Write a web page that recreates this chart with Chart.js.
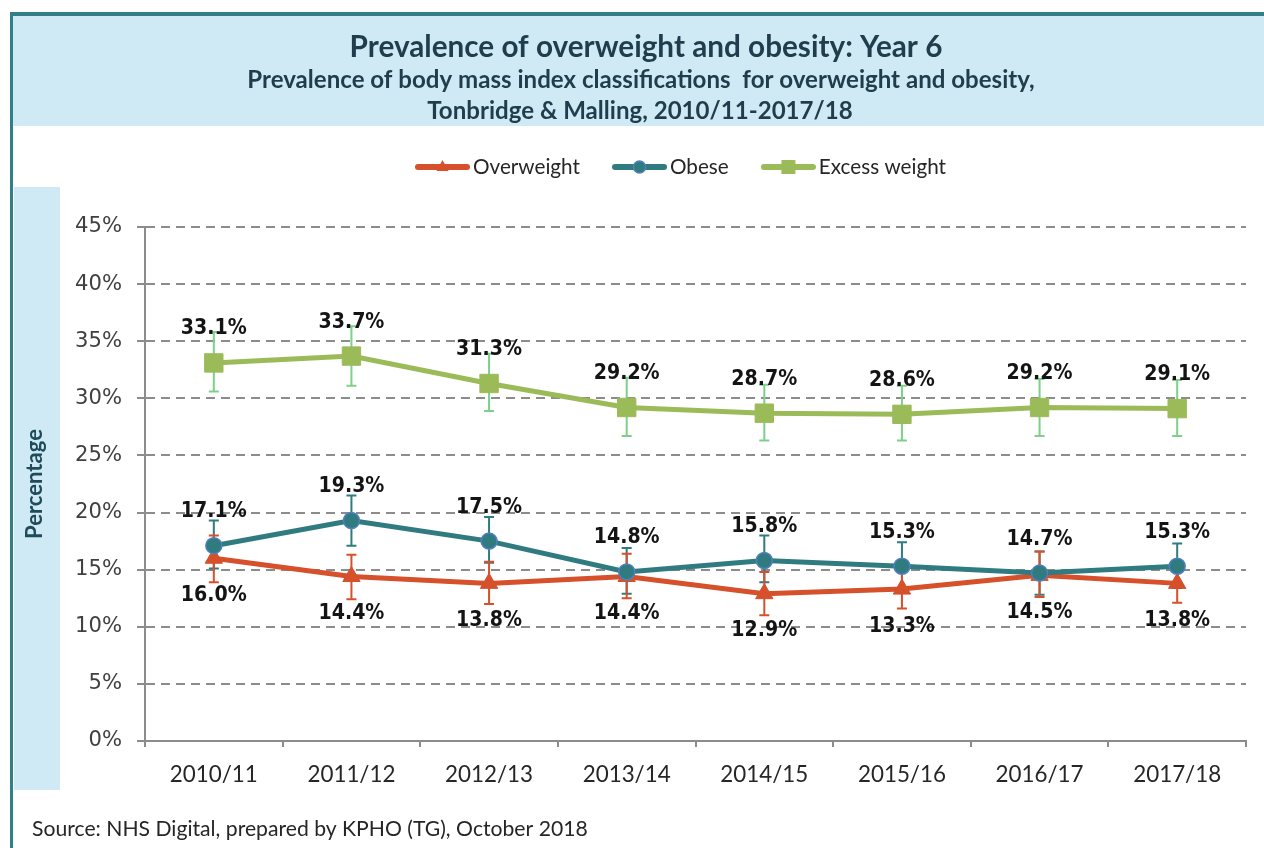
<!DOCTYPE html>
<html>
<head>
<meta charset="utf-8">
<script src="https://cdn.jsdelivr.net/npm/chart.js@4.4.1/dist/chart.umd.min.js"></script>
<style>
html,body{margin:0;padding:0;background:#fff;}
#wrap{width:1264px;height:848px;position:relative;overflow:hidden;}
canvas{display:block;}
</style>
</head>
<body>
<div id="wrap"><canvas id="c" width="1264" height="848"></canvas></div>
<script>
// ---------- DATA ----------
const years = ['2010/11','2011/12','2012/13','2013/14','2014/15','2015/16','2016/17','2017/18'];
const overweight = [16.0,14.4,13.8,14.4,12.9,13.3,14.5,13.8];
const obese = [17.1,19.3,17.5,14.8,15.8,15.3,14.7,15.3];
const excess = [33.1,33.7,31.3,29.2,28.7,28.6,29.2,29.1];
const overweightLow = [13.9,12.4,12.0,12.5,11.0,11.6,12.6,12.1];
const overweightHigh = [18.0,16.3,15.7,16.4,14.8,15.2,16.6,15.6];
const obeseLow = [15.1,17.1,15.6,12.9,13.9,13.4,12.8,13.4];
const obeseHigh = [19.3,21.5,19.6,16.9,18.0,17.4,16.6,17.3];
const excessLow = [30.6,31.1,28.9,26.7,26.3,26.3,26.7,26.7];
const excessHigh = [35.8,36.3,33.9,31.8,31.2,31.1,31.7,31.6];
const yTickLabels = ['0%','5%','10%','15%','20%','25%','30%','35%','40%','45%'];
const seriesNames = ['Overweight','Obese','Excess weight'];
const titleText = 'Prevalence of overweight and obesity: Year 6';
const subtitleText = ['Prevalence of body mass index classifications  for overweight and obesity,', 'Tonbridge & Malling, 2010/11-2017/18'];
const yTitleText = 'Percentage';
const sourceText = 'Source: NHS Digital, prepared by KPHO (TG), October 2018';

// ---------- STYLE ----------
const RED = '#d5502b', TEAL = '#2f7b7f', GREEN = '#9bbb59';
const RED_ERR = '#d5502b', TEAL_ERR = '#2f7b7f', GREEN_ERR = '#7dd08a';
const GRID = '#8c8c8c';
const BAND = '#cfeaf5', BORDER = '#317f87', TITLE_COL = '#1f3d4c';
const CAL = "'Lato', 'Open Sans', sans-serif";
const VER = "'DejaVu Sans', sans-serif";
const VERC = "'DejaVu Sans Condensed', 'DejaVu Sans', sans-serif";

const mctx = document.createElement('canvas').getContext('2d');
function fitSize(text, weight, family, target){
  mctx.font = weight + ' 100px ' + family;
  return 100 * target / mctx.measureText(text).width;
}
function textW(text, weight, size, family){
  mctx.font = weight + ' ' + size + 'px ' + family;
  return mctx.measureText(text).width;
}

const T1 = fitSize(titleText, 'bold', CAL, 593);
const T2 = fitSize(subtitleText[0], 'bold', CAL, 788);
const SRC = fitSize(sourceText, 'normal', CAL, 556);
const LEG = fitSize('Overweight', 'normal', CAL, 107);
const XT = fitSize('2010/11', 'normal', CAL, 88);
const YT = fitSize('45%', 'normal', VER, 47);
const YTITLE = fitSize(yTitleText, 'bold', CAL, 110);
const DL = fitSize('33.1%', 'bold', VERC, 66);

// legend geometry
const LINE_W = 55;
const legBoxW = 61 - LEG;
const legPad = (612 - 415) - (legBoxW + LEG/2 + textW('Overweight','normal',LEG,CAL));

function legendImage(kind, color){
  const c = document.createElement('canvas');
  c.width = LINE_W; c.height = 20;
  const g = c.getContext('2d');
  g.strokeStyle = color; g.lineWidth = 6; g.lineCap = 'round';
  g.beginPath(); g.moveTo(3,10); g.lineTo(LINE_W-3,10); g.stroke();
  g.fillStyle = color;
  const cx = LINE_W/2, cy = 10;
  if (kind === 'triangle'){
    g.beginPath(); g.moveTo(cx, cy-7); g.lineTo(cx+6, cy+4); g.lineTo(cx-6, cy+4); g.closePath(); g.fill();
  } else if (kind === 'circle'){
    g.beginPath(); g.arc(cx, cy, 6, 0, Math.PI*2); g.fill();
    g.strokeStyle = '#4f81bd'; g.lineWidth = 1.5; g.stroke();
  } else {
    g.fillRect(cx-7, cy-7, 14, 14);
  }
  return c;
}
const legendImgs = [legendImage('triangle', RED), legendImage('circle', TEAL), legendImage('rect', GREEN)];

// ---------- PLUGINS ----------
const background = {
  id: 'background',
  beforeDraw(chart){
    const ctx = chart.ctx;
    ctx.save();
    ctx.fillStyle = '#ffffff'; ctx.fillRect(0,0,chart.width,chart.height);
    ctx.fillStyle = BAND; ctx.fillRect(13,16,chart.width-13,110);
    ctx.fillRect(14,187,46,603);
    ctx.fillStyle = BORDER; ctx.fillRect(10,12,chart.width-10,4); ctx.fillRect(10,12,3,chart.height-12);
    ctx.fillStyle = TITLE_COL; ctx.textAlign = 'center'; ctx.textBaseline = 'middle';
    ctx.font = 'bold ' + T1 + 'px ' + CAL; ctx.fillText(titleText, 646, 47);
    ctx.font = 'bold ' + T2 + 'px ' + CAL; ctx.fillText(subtitleText[0], 641, 80); ctx.fillText(subtitleText[1], 640, 111);
    ctx.fillStyle = '#262626'; ctx.textAlign = 'left';
    ctx.font = 'normal ' + SRC + 'px ' + CAL; ctx.fillText(sourceText, 32, 829);
    ctx.restore();
  },
  afterLayout(chart){
    const lg = chart.legend;
    if (!lg) return;
    const h = lg.height, w = lg.width;
    const top = 167 - legPad - LEG/2;
    lg.top = top; lg.bottom = top + h;
    const left = 415 + LINE_W/2 - legBoxW/2 - legPad;
    lg.left = left; lg.right = left + w;
  }
};

const errorBars = {
  id: 'errorBars',
  beforeDatasetsDraw(chart){
    const ctx = chart.ctx, ys = chart.scales.y;
    const sets = [[2, excessLow, excessHigh, GREEN_ERR],[1, obeseLow, obeseHigh, TEAL_ERR],[0, overweightLow, overweightHigh, RED_ERR]];
    ctx.save();
    ctx.lineWidth = 2;
    sets.forEach(([di, lo, hi, col]) => {
      const meta = chart.getDatasetMeta(di);
      ctx.strokeStyle = col;
      meta.data.forEach((pt, i) => {
        const x = pt.x, y1 = ys.getPixelForValue(lo[i]), y2 = ys.getPixelForValue(hi[i]);
        ctx.beginPath();
        ctx.moveTo(x, y1); ctx.lineTo(x, y2);
        ctx.moveTo(x-5, y1); ctx.lineTo(x+5, y1);
        ctx.moveTo(x-5, y2); ctx.lineTo(x+5, y2);
        ctx.stroke();
      });
    });
    ctx.restore();
  }
};

const dataLabels = {
  id: 'dataLabels',
  afterDatasetsDraw(chart){
    const ctx = chart.ctx;
    ctx.save();
    ctx.font = 'bold ' + DL + 'px ' + VERC;
    ctx.fillStyle = '#141414'; ctx.textAlign = 'center'; ctx.textBaseline = 'middle';
    const offs = [37, -34, -34];
    chart.data.datasets.forEach((ds, di) => {
      chart.getDatasetMeta(di).data.forEach((pt, i) => {
        ctx.fillText(ds.data[i].toFixed(1) + '%', pt.x, pt.y + offs[di]);
      });
    });
    ctx.restore();
  }
};

// ---------- CHART ----------
const pad = {left: 0, right: 18, top: 120, bottom: 59};
const chart = new Chart(document.getElementById('c'), {
  type: 'line',
  data: {
    labels: years,
    datasets: [
      {label: seriesNames[0], data: overweight, borderColor: RED, backgroundColor: RED, borderWidth: 5,
       pointStyle: 'triangle', pointRadius: 10, pointBackgroundColor: RED, pointBorderColor: RED, pointBorderWidth: 1, order: 1},
      {label: seriesNames[1], data: obese, borderColor: TEAL, backgroundColor: TEAL, borderWidth: 5,
       pointStyle: 'circle', pointRadius: 8, pointBackgroundColor: TEAL, pointBorderColor: '#4f81bd', pointBorderWidth: 1.5, order: 0},
      {label: seriesNames[2], data: excess, borderColor: GREEN, backgroundColor: GREEN, borderWidth: 5,
       pointStyle: 'rect', pointRadius: 13, pointBackgroundColor: GREEN, pointBorderColor: GREEN, pointBorderWidth: 1, order: 2}
    ]
  },
  options: {
    responsive: false, animation: false, devicePixelRatio: 1,
    layout: {padding: pad},
    plugins: {
      tooltip: {enabled: false},
      title: {display: false},
      legend: {
        position: 'top', align: 'start',
        labels: {
          usePointStyle: true, pointStyleWidth: legBoxW, padding: legPad,
          font: {family: CAL, size: LEG}, color: '#262626',
          sort: (a, b) => a.datasetIndex - b.datasetIndex,
          generateLabels: (ch) => Chart.defaults.plugins.legend.labels.generateLabels(ch).map(l => Object.assign(l, {pointStyle: legendImgs[l.datasetIndex]}))
        }
      }
    },
    scales: {
      x: {
        offset: true,
        grid: {offset: true, drawOnChartArea: false, tickLength: 6, color: GRID, lineWidth: 2},
        border: {color: GRID, width: 2},
        ticks: {font: {family: CAL, size: XT}, color: '#262626', padding: 28 - 0.6*XT, maxRotation: 0, autoSkip: false},
        afterFit: (s) => { s.height = 48; }
      },
      y: {
        min: 0, max: 45,
        ticks: {stepSize: 5, callback: (v, i) => yTickLabels[i], font: {family: VER, size: YT}, color: '#404040', padding: 15},
        grid: {color: (c) => (c.tick && c.tick.value === 0) ? 'rgba(0,0,0,0)' : GRID, lineWidth: 2, tickLength: 8, tickColor: GRID, tickWidth: 2, tickBorderDash: []},
        border: {color: GRID, width: 2, dash: [9, 6]},
        title: {display: true, text: yTitleText, font: {family: CAL, size: YTITLE, weight: 'bold'}, color: '#1f4b5b', padding: {top: 35 - YTITLE*0.6, bottom: 0}},
        afterFit: (s) => { s.width = 145; }
      }
    }
  },
  plugins: [background, errorBars, dataLabels]
});

// fit the plot area to the reference frame
const ca = chart.chartArea;
pad.top += 227 - ca.top;
pad.bottom += ca.bottom - 741;
pad.right += ca.right - 1246;
chart.config.options.layout.padding = pad;
chart.update();
</script>
</body>
</html>
